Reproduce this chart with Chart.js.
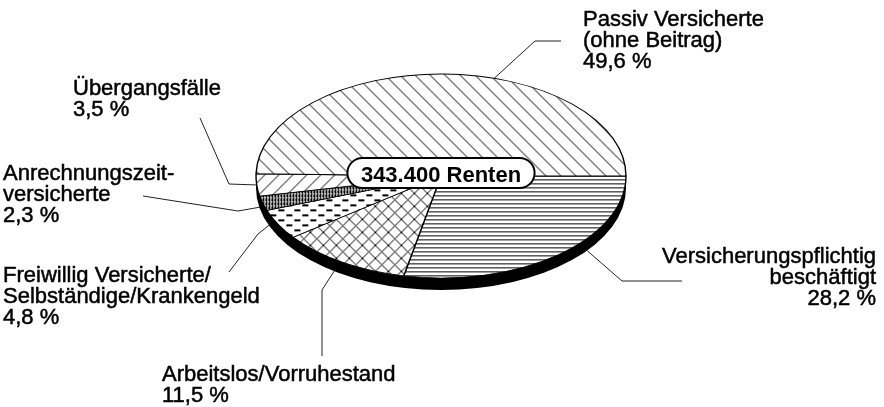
<!DOCTYPE html>
<html>
<head>
<meta charset="utf-8">
<script src="https://cdn.jsdelivr.net/npm/chart.js@4"></script>
<style>
  html, body { margin: 0; padding: 0; background: #fff; }
  #wrap { width: 884px; height: 407px; }
</style>
</head>
<body>
<div id="wrap"><canvas id="graph" width="884" height="407"></canvas></div>
<script>
// data, clockwise from 3 o'clock
const categories = ['Versicherungspflichtig beschäftigt', 'Arbeitslos/Vorruhestand',
  'Freiwillig Versicherte/Selbständige/Krankengeld', 'Anrechnungszeitversicherte',
  'Übergangsfälle', 'Passiv Versicherte (ohne Beitrag)']
const shares = [28.2, 11.5, 4.8, 2.3, 3.5, 49.6]
const labelLines = [
  ['Versicherungspflichtig', 'beschäftigt'],
  ['Arbeitslos/Vorruhestand'],
  ['Freiwillig Versicherte/', 'Selbständige/Krankengeld'],
  ['Anrechnungszeit-', 'versicherte'],
  ['Übergangsfälle'],
  ['Passiv Versicherte', '(ohne Beitrag)']
]
const totalText = '343.400 Renten'

// ellipse geometry on screen
const CX = 441, CY = 176, RX = 185, RY = 102, DEPTH = 12
const FONT = '22px "Liberation Sans", Arial, sans-serif'
const LINE_H = 21

// label placement: text position, where the leader touches the slice, elbow points
const labelPos = [
  { x: 876, y: 263, align: 'right', frac: 0.38, rim: true, path: [[622, 281], [682, 281]] },
  { x: 162, y: 381, align: 'left', frac: 0.56, rim: true, path: [[322, 290], [322, 356]] },
  { x: 3, y: 282, align: 'left', frac: 0.84, rim: true, path: [[258, 234], [229, 272]] },
  { x: 3, y: 180, align: 'left', frac: 0.9, rim: true, path: [[238, 211], [143, 196]] },
  { x: 73, y: 95, align: 'left', frac: 0.5, rim: false, path: [[229, 184], [200, 118]] },
  { x: 583, y: 26, align: 'left', frac: 0.59, rim: false, path: [[535, 41], [561, 41]] }
]

const fmt = v => v.toFixed(1).replace('.', ',') + ' %'

function makePattern(w, h, draw) {
  const c = document.createElement('canvas')
  c.width = w; c.height = h
  const g = c.getContext('2d')
  g.fillStyle = '#fff'
  g.fillRect(0, 0, w, h)
  g.strokeStyle = '#000'
  g.fillStyle = '#000'
  g.lineWidth = 1
  draw(g, w, h)
  return g.createPattern(c, 'repeat')
}

const patterns = [
  // horizontal lines
  makePattern(4, 4, g => g.fillRect(0, 0, 4, 1)),
  // cross hatch
  makePattern(13, 13, g => {
    g.beginPath()
    g.moveTo(-1, -1); g.lineTo(14, 14)
    g.moveTo(-1, 14); g.lineTo(14, -1)
    g.stroke()
  }),
  // dashes
  makePattern(16, 10, g => { g.fillRect(0, 1, 6, 2); g.fillRect(8, 6, 6, 2) }),
  // dense vertical
  makePattern(3, 4, g => { g.fillRect(0, 0, 2, 4); g.fillStyle = '#fff'; g.fillRect(0, 2, 1, 1) }),
  // forward diagonal
  makePattern(14, 14, g => {
    g.beginPath()
    g.moveTo(-1, 15); g.lineTo(15, -1)
    g.moveTo(-1, 1); g.lineTo(1, -1)
    g.moveTo(13, 15); g.lineTo(15, 13)
    g.stroke()
  }),
  // backward diagonal
  makePattern(15, 15, g => {
    g.beginPath()
    g.moveTo(-1, -1); g.lineTo(16, 16)
    g.moveTo(-1, 14); g.lineTo(1, 16)
    g.moveTo(14, -1); g.lineTo(16, 1)
    g.stroke()
  })
]

const ellipsePie = {
  id: 'ellipsePie',
  beforeDatasetsDraw(chart) {
    const ctx = chart.ctx
    const a = chart.getDatasetMeta(0).data[0]
    const R = a.outerRadius
    const sx = RX / R, sy = RY / R
    patterns.forEach(p => p.setTransform(new DOMMatrix().scaleSelf(1 / sx, 1 / sy)))
    ctx.save()
    ctx.translate(CX, CY)
    ctx.scale(sx, sy)
    ctx.translate(-a.x, -a.y)
    // side of the disc
    const d = DEPTH / sy
    ctx.fillStyle = '#000'
    ctx.beginPath()
    ctx.arc(a.x, a.y + d, R, 0, Math.PI * 2)
    ctx.fill()
    ctx.fillRect(a.x - R, a.y, 2 * R, d)
  },
  afterDatasetsDraw(chart) {
    const ctx = chart.ctx
    ctx.restore()

    // leader lines and labels
    const arcs = chart.getDatasetMeta(0).data
    ctx.save()
    labelPos.forEach((p, i) => {
      const arc = arcs[i]
      const t = arc.startAngle + p.frac * (arc.endAngle - arc.startAngle)
      const ax = CX + RX * Math.cos(t)
      const ay = CY + RY * Math.sin(t) + (p.rim ? DEPTH * 0.8 : 0)
      ctx.strokeStyle = '#222'
      ctx.lineWidth = 1
      ctx.beginPath()
      ctx.moveTo(ax, ay)
      p.path.forEach(pt => ctx.lineTo(pt[0], pt[1]))
      ctx.stroke()

      ctx.fillStyle = '#000'
      ctx.strokeStyle = '#000'
      ctx.lineWidth = 0.5
      ctx.font = FONT
      ctx.textAlign = p.align
      ctx.textBaseline = 'alphabetic'
      const lines = labelLines[i].concat([fmt(shares[i])])
      lines.forEach((s, k) => {
        ctx.fillText(s, p.x, p.y + k * LINE_H)
        ctx.strokeText(s, p.x, p.y + k * LINE_H)
      })
    })

    // total in the middle
    ctx.font = 'bold 22px "Liberation Sans", Arial, sans-serif'
    const w = ctx.measureText(totalText).width + 27
    const h = 30
    ctx.beginPath()
    ctx.roundRect(CX - w / 2, CY - 18, w, h, 15)
    ctx.fillStyle = '#fff'
    ctx.fill()
    ctx.lineWidth = 2
    ctx.strokeStyle = '#000'
    ctx.stroke()
    ctx.fillStyle = '#000'
    ctx.textAlign = 'center'
    ctx.fillText(totalText, CX, CY + 6)
    ctx.restore()
  }
}

new Chart(document.querySelector('#graph'), {
  type: 'pie',
  data: {
    labels: categories,
    datasets: [{
      data: shares,
      backgroundColor: patterns,
      borderColor: '#000',
      borderWidth: 1.4,
      clip: false
    }]
  },
  options: {
    responsive: false,
    animation: false,
    events: [],
    rotation: 90,
    layout: { padding: { left: 256, right: 258, top: 0, bottom: 0 } },
    plugins: {
      legend: { display: false },
      tooltip: { enabled: false }
    }
  },
  plugins: [ellipsePie]
})
</script>
</body>
</html>
